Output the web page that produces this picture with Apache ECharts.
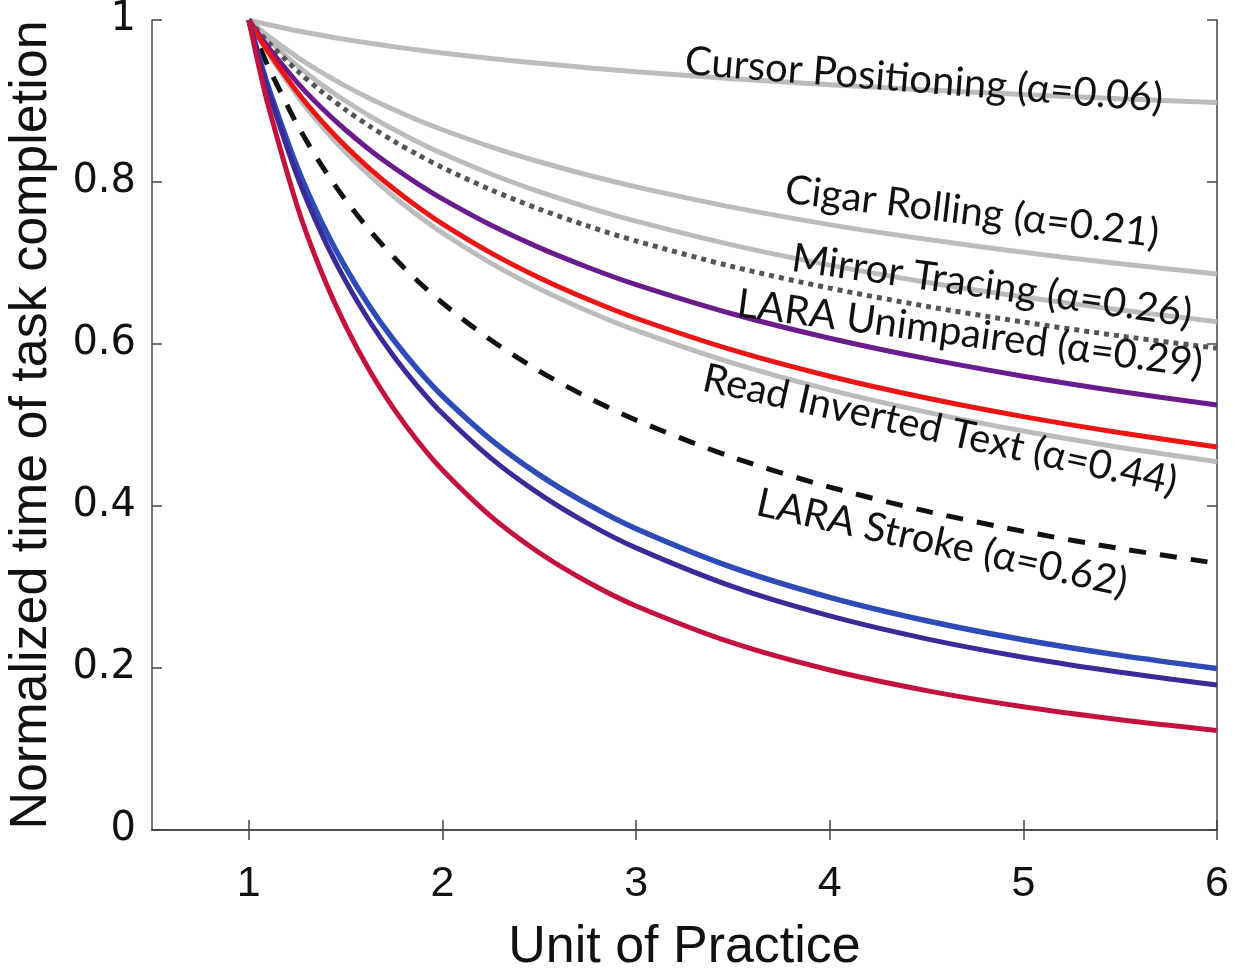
<!DOCTYPE html>
<html>
<head>
<meta charset="utf-8">
<title>Learning curves</title>
<script src="https://cdn.jsdelivr.net/npm/echarts@6/dist/echarts.min.js"></script>
<style>
  html, body { margin: 0; padding: 0; background: #fff; }
  #main { width: 1243px; height: 971px; }
</style>
</head>
<body>
<div id="main"></div>
<script>
var xValues = [1, 1.05, 1.1, 1.25, 1.375, 1.5, 1.625, 1.75, 1.875, 2, 2.25, 2.5, 2.75, 3, 3.5, 4, 4.5, 5, 5.5, 6];
var xTicks = [1, 2, 3, 4, 5, 6];

// values (normalized time)
var cursorPositioning = [1, 0.9970, 0.9943, 0.9867, 0.9811, 0.9760, 0.9713, 0.9670, 0.9630, 0.9593, 0.9525, 0.9465, 0.9411, 0.9362, 0.9276, 0.9202, 0.9137, 0.9079, 0.9028, 0.8981];
var cigarRolling      = [1, 0.9898, 0.9802, 0.9542, 0.9353, 0.9184, 0.9031, 0.8891, 0.8763, 0.8645, 0.8434, 0.8250, 0.8086, 0.7940, 0.7687, 0.7474, 0.7292, 0.7132, 0.6991, 0.6864];
var mirrorTracing     = [1, 0.9874, 0.9755, 0.9436, 0.9205, 0.9000, 0.8814, 0.8646, 0.8492, 0.8351, 0.8099, 0.7880, 0.7687, 0.7516, 0.7220, 0.6974, 0.6763, 0.6581, 0.6420, 0.6276];
var laraUnimpaired    = [1, 0.9859, 0.9727, 0.9373, 0.9118, 0.8891, 0.8687, 0.8502, 0.8334, 0.8179, 0.7904, 0.7666, 0.7457, 0.7272, 0.6954, 0.6690, 0.6465, 0.6271, 0.6099, 0.5948];
var readInverted      = [1, 0.9788, 0.9589, 0.9065, 0.8693, 0.8366, 0.8077, 0.7817, 0.7584, 0.7371, 0.6999, 0.6682, 0.6408, 0.6167, 0.5763, 0.5433, 0.5159, 0.4925, 0.4723, 0.4546];
var laraStroke        = [1, 0.9702, 0.9426, 0.8708, 0.8208, 0.7777, 0.7401, 0.7068, 0.6772, 0.6507, 0.6049, 0.5666, 0.5341, 0.5060, 0.4599, 0.4234, 0.3936, 0.3687, 0.3475, 0.3293];
var purpleCurve       = [1, 0.9826, 0.9663, 0.9228, 0.8917, 0.8642, 0.8396, 0.8175, 0.7975, 0.7792, 0.7468, 0.7190, 0.6948, 0.6733, 0.6370, 0.6071, 0.5819, 0.5602, 0.5413, 0.5246];
var redCurve          = [1, 0.9798, 0.9609, 0.9110, 0.8754, 0.8441, 0.8163, 0.7914, 0.7689, 0.7484, 0.7125, 0.6818, 0.6552, 0.6318, 0.5924, 0.5602, 0.5333, 0.5103, 0.4904, 0.4729];
var blueCurve         = [1, 0.9570, 0.9178, 0.8181, 0.7508, 0.6943, 0.6460, 0.6043, 0.5679, 0.5359, 0.4820, 0.4384, 0.4023, 0.3720, 0.3239, 0.2872, 0.2583, 0.2349, 0.2156, 0.1994];
var indigoCurve       = [1, 0.9542, 0.9126, 0.8072, 0.7366, 0.6776, 0.6275, 0.5844, 0.5469, 0.5141, 0.4591, 0.4150, 0.3786, 0.3483, 0.3004, 0.2643, 0.2360, 0.2133, 0.1947, 0.1790];
var crimsonCurve      = [1, 0.9445, 0.8945, 0.7702, 0.6889, 0.6223, 0.5666, 0.5196, 0.4793, 0.4444, 0.3872, 0.3423, 0.3062, 0.2766, 0.2309, 0.1975, 0.1721, 0.1521, 0.1361, 0.1229];

function pairs(ys) {
    var out = [];
    for (var i = 0; i < xValues.length; i++) {
        out.push([xValues[i], ys[i]]);
    }
    return out;
}

function curve(name, ys, color, width, type) {
    return {
        name: name,
        type: 'line',
        data: pairs(ys),
        showSymbol: false,
        symbol: 'none',
        smooth: 0.3,
        lineStyle: { color: color, width: width, type: type || 'solid', cap: 'butt' },
        silent: true
    };
}

var deg = Math.PI / 180;
function label(text, x, y, angle) {
    return {
        type: 'text',
        x: x,
        y: y,
        rotation: -angle * deg,
        z: 100,
        style: {
            text: text,
            fill: '#111',
            font: '40px Lato',
            align: 'center',
            verticalAlign: 'middle'
        }
    };
}

var axisLineStyle = { color: '#444', width: 1.5 };

var myChart = echarts.init(document.getElementById('main'));

option = {
    animation: false,
    backgroundColor: '#fff',
    grid: {
        left: 152,
        right: 26,
        top: 20,
        bottom: 141,
        containLabel: false,
        outerBoundsMode: 'none'
    },
    xAxis: [{
        type: 'value',
        min: 0.5,
        max: 6,
        name: 'Unit of Practice',
        nameLocation: 'middle',
        nameGap: 92,
        nameTextStyle: { fontFamily: 'Liberation Sans', fontSize: 52, color: '#111' },
        axisLine: { show: true, lineStyle: axisLineStyle },
        axisTick: { show: true, inside: true, length: 10, customValues: xTicks, lineStyle: axisLineStyle },
        axisLabel: { customValues: xTicks, fontFamily: 'Liberation Sans', fontSize: 43, color: '#111', margin: 33 },
        splitLine: { show: false }
    }, {
        type: 'value',
        position: 'top',
        min: 0.5,
        max: 6,
        axisLine: { show: true, lineStyle: axisLineStyle },
        axisTick: { show: true, inside: true, length: 10, customValues: xTicks, lineStyle: axisLineStyle },
        axisLabel: { show: false },
        splitLine: { show: false }
    }],
    yAxis: [{
        type: 'value',
        min: 0,
        max: 1,
        interval: 0.2,
        name: 'Normalized time of task completion',
        nameLocation: 'middle',
        nameGap: 94,
        nameTextStyle: { fontFamily: 'Liberation Sans', fontSize: 52, color: '#111' },
        axisLine: { show: true, lineStyle: axisLineStyle },
        axisTick: { show: true, inside: true, length: 10, lineStyle: axisLineStyle },
        axisLabel: {
            fontFamily: 'DejaVu Sans', fontSize: 40, color: '#111', margin: 16,
            formatter: function (v) { return (v === 0 || v === 1) ? String(v) : v.toFixed(1); }
        },
        splitLine: { show: false }
    }, {
        type: 'value',
        position: 'right',
        min: 0,
        max: 1,
        interval: 0.2,
        axisLine: { show: true, lineStyle: axisLineStyle },
        axisTick: { show: true, inside: true, length: 10, lineStyle: axisLineStyle },
        axisLabel: { show: false },
        splitLine: { show: false }
    }],
    series: [
        curve('Cursor Positioning', cursorPositioning, '#bcbcbc', 5),
        curve('Cigar Rolling', cigarRolling, '#bcbcbc', 5),
        curve('Mirror Tracing', mirrorTracing, '#bcbcbc', 5),
        curve('Read Inverted Text', readInverted, '#bcbcbc', 5),
        curve('LARA Unimpaired', laraUnimpaired, '#555', 5, [5, 5]),
        curve('LARA Stroke', laraStroke, '#111', 5, [17, 14]),
        curve('purple', purpleCurve, '#6a1b8c', 5),
        curve('red', redCurve, '#ee1414', 5),
        curve('blue', blueCurve, '#2d4cb8', 5.5),
        curve('indigo', indigoCurve, '#3b2a98', 5),
        curve('crimson', crimsonCurve, '#c4123e', 5)
    ],
    graphic: [
        label('Cursor Positioning (\u03b1=0.06)', 924, 80, 4.5),
        label('Cigar Rolling (\u03b1=0.21)', 972, 212, 6.8),
        label('Mirror Tracing (\u03b1=0.26)', 992, 286, 8),
        label('LARA Unimpaired (\u03b1=0.29)', 970, 334, 7.5),
        label('Read Inverted Text (\u03b1=0.44)', 940, 430, 12.5),
        label('LARA Stroke (\u03b1=0.62)', 942, 543, 12.5)
    ]
};

myChart.setOption(option);
window.onresize = myChart.resize;
</script>
</body>
</html>
